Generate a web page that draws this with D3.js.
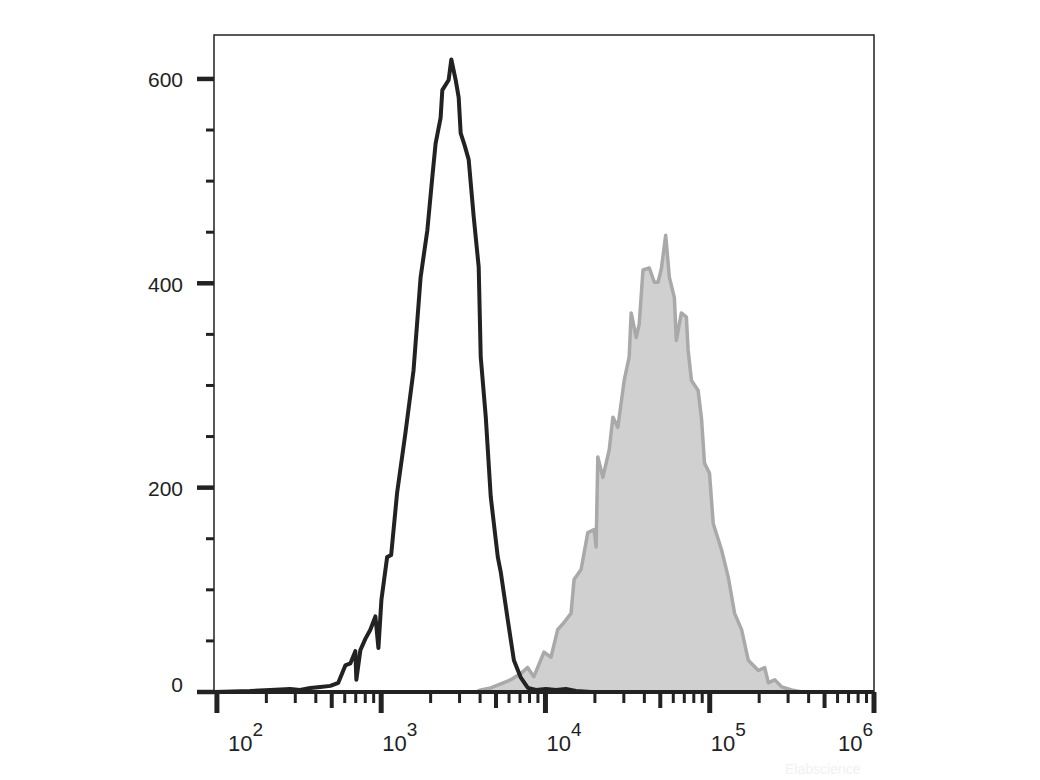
<!DOCTYPE html>
<html>
<head>
<meta charset="utf-8">
<script src="https://cdn.jsdelivr.net/npm/d3@7"></script>
<style>
  html, body { margin: 0; padding: 0; background: #fff; }
  svg { display: block; }
  text { font-family: Arial, "Liberation Sans", sans-serif; fill: #222; }
</style>
</head>
<body>
<svg id="chart" width="1040" height="780"></svg>
<script>
// ---------- data (fluorescence intensity, event count) ----------
const controlIntensity = [96, 159, 211, 279, 321, 370, 426, 490, 548, 605, 649, 696, 706, 747, 801, 859, 922, 962, 1003, 1087, 1150, 1250, 1406, 1574, 1738, 1910, 2048, 2145, 2300, 2356, 2574, 2673, 2840, 2963, 3047, 3221, 3409, 3658, 3923, 4036, 4332, 4645, 5127, 5349, 5904, 6424, 7083, 7813, 8748, 10071, 11590, 13330, 15340, 18960, 1000000];
const controlCount     = [0, 1, 2, 3, 2, 4, 5, 6, 9, 26, 28, 40, 12, 41, 52, 61, 74, 43, 90, 132, 134, 195, 254, 315, 406, 452, 504, 537, 562, 589, 599, 619, 599, 582, 547, 535, 521, 465, 416, 328, 269, 191, 132, 117, 70, 31, 14, 4, 2, 3, 2, 3, 1, 0, 0];

const stainedIntensity = [3767, 4036, 4645, 5349, 6150, 7083, 7780, 8505, 9795, 10810, 11870, 12970, 14310, 14930, 16480, 18110, 19780, 20340, 20830, 22360, 24440, 25730, 27600, 30150, 32340, 33250, 35690, 37220, 39240, 42890, 46000, 48440, 50740, 53930, 56770, 60910, 62620, 67200, 72090, 73840, 77380, 84990, 89070, 92920, 99700, 105000, 118100, 129800, 141700, 156300, 171700, 197700, 216000, 227500, 248500, 274100, 315400, 363000];
const stainedCount     = [0, 2, 4, 8, 12, 18, 24, 15, 39, 34, 61, 68, 77, 110, 120, 156, 159, 142, 230, 210, 237, 269, 259, 305, 328, 371, 347, 360, 413, 415, 401, 401, 414, 447, 406, 386, 344, 371, 367, 335, 305, 295, 268, 224, 214, 165, 139, 112, 77, 61, 31, 21, 24, 9, 12, 5, 2, 0];

const yTickValues = [0, 200, 400, 600];
const yMinorStep = 50;
const xDecades = [2, 3, 4, 5, 6];
const xDomain = [96, 1000000];
const yDomain = [0, 643];

// ---------- layout ----------
const svg = d3.select("#chart");
const pLeft = 214, pRight = 874, pTop = 35, pBottom = 692;

const x = d3.scaleLog().domain(xDomain).range([pLeft, pRight]);
const y = d3.scaleLinear().domain(yDomain).range([pBottom, pTop]);

// stained histogram (grey filled)
const stained = stainedIntensity.map((v, i) => [v, stainedCount[i]]);
svg.append("path")
  .datum(stained)
  .attr("d", d3.area().x(d => x(d[0])).y0(y(0)).y1(d => y(d[1])))
  .attr("fill", "#d0d0d0")
  .attr("stroke", "none");
svg.append("path")
  .datum(stained)
  .attr("d", d3.line().x(d => x(d[0])).y(d => y(d[1])))
  .attr("fill", "none")
  .attr("stroke", "#a9a9a9")
  .attr("stroke-width", 3.5)
  .attr("stroke-linejoin", "round");

// frame (thin)
svg.append("path")
  .attr("d", `M${pLeft},${pBottom}V${pTop}H${pRight}V${pBottom}`)
  .attr("fill", "none")
  .attr("stroke", "#222")
  .attr("stroke-width", 1.5);

// control histogram (black line)
const control = controlIntensity.map((v, i) => [v, controlCount[i]]);
svg.append("path")
  .datum(control)
  .attr("d", d3.line().x(d => x(d[0])).y(d => y(d[1])))
  .attr("fill", "none")
  .attr("stroke", "#222")
  .attr("stroke-width", 4)
  .attr("stroke-linejoin", "round");

// bottom axis line
svg.append("line")
  .attr("x1", pLeft).attr("x2", pRight)
  .attr("y1", pBottom).attr("y2", pBottom)
  .attr("stroke", "#222").attr("stroke-width", 4);

// ---------- y axis ticks ----------
const yMinor = d3.range(0, yDomain[1], yMinorStep).filter(v => !yTickValues.includes(v));
svg.selectAll(".ymin").data(yMinor).enter().append("line")
  .attr("x1", pLeft - 8).attr("x2", pLeft)
  .attr("y1", d => y(d)).attr("y2", d => y(d))
  .attr("stroke", "#222").attr("stroke-width", 3);
svg.selectAll(".ymaj").data(yTickValues).enter().append("line")
  .attr("x1", pLeft - 17).attr("x2", pLeft)
  .attr("y1", d => y(d)).attr("y2", d => y(d))
  .attr("stroke", "#222").attr("stroke-width", 4.5);
svg.selectAll(".ylab").data(yTickValues).enter().append("text")
  .attr("x", 183)
  .attr("y", d => y(d) + (d === 0 ? 0 : 8.5))
  .attr("text-anchor", "end")
  .attr("font-size", 21)
  .text(d => d);

// ---------- x axis ticks ----------
const xMinor = [];
xDecades.slice(0, -1).forEach(e => {
  for (let m = 2; m <= 9; m++) xMinor.push({ v: m * Math.pow(10, e), mid: m === 5 });
});
svg.selectAll(".xmin").data(xMinor).enter().append("line")
  .attr("x1", d => x(d.v)).attr("x2", d => x(d.v))
  .attr("y1", pBottom).attr("y2", d => pBottom + (d.mid ? 16 : 11))
  .attr("stroke", "#222").attr("stroke-width", d => d.mid ? 4 : 3);
svg.selectAll(".xmaj").data(xDecades).enter().append("line")
  .attr("x1", d => x(Math.pow(10, d))).attr("x2", d => x(Math.pow(10, d)))
  .attr("y1", pBottom).attr("y2", pBottom + 21)
  .attr("stroke", "#222").attr("stroke-width", 5);

xDecades.forEach(e => {
  const t = svg.append("text")
    .attr("y", 751)
    .attr("font-size", 22);
  t.append("tspan").text("10");
  t.append("tspan").attr("font-size", 19).attr("dy", -15).text(e);
  const w = t.node().getComputedTextLength();
  let x0 = Math.max(x(Math.pow(10, e)) + 1, pLeft + 14);
  if (x0 + w > pRight - 1) x0 = pRight - 1 - w;
  t.attr("x", x0);
});

// faint watermark
svg.append("text")
  .attr("x", 785).attr("y", 774)
  .attr("font-size", 14)
  .style("fill", "#f1f1f1")
  .text("Elabscience");
</script>
</body>
</html>
